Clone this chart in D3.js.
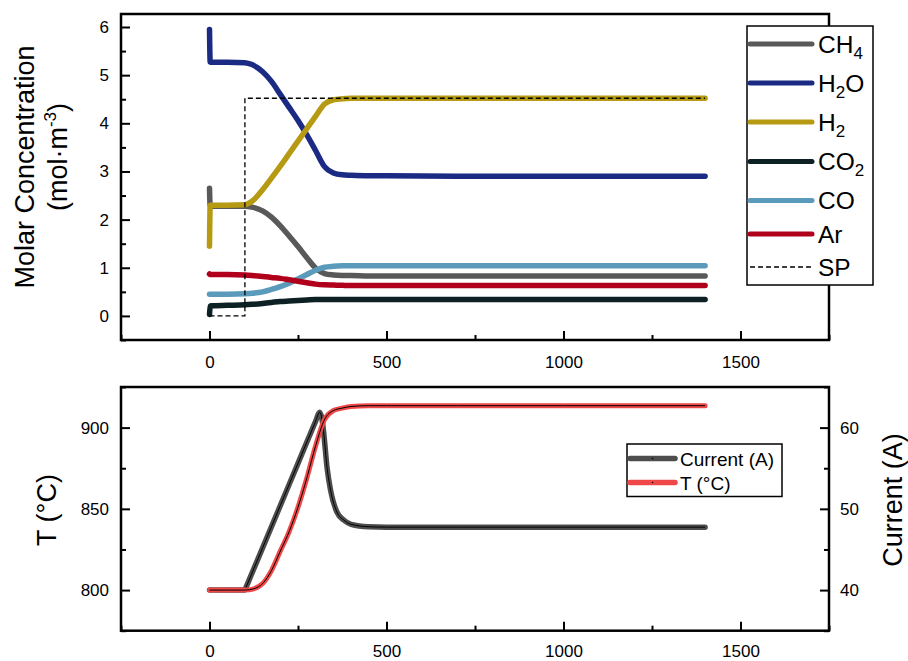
<!DOCTYPE html>
<html>
<head>
<meta charset="utf-8">
<script src="https://cdn.jsdelivr.net/npm/d3@7"></script>
<style>
  body { margin: 0; background: #fff; }
  svg { display: block; }
</style>
</head>
<body>
<div id="chart"></div>
<script>
// ---- data ----
var timeTop = [0, 2, 5, 50, 100, 120, 150, 175, 200, 225, 250, 275, 300, 325, 350, 375, 400, 450, 500, 700, 1000, 1400];
var ch4 = [2.65, 2.28, 2.28, 2.28, 2.28, 2.26, 2.18, 2.05, 1.87, 1.66, 1.44, 1.21, 0.99, 0.88, 0.85, 0.84, 0.84, 0.83, 0.83, 0.83, 0.83, 0.83];
var h2o = [5.95, 5.27, 5.27, 5.27, 5.26, 5.22, 5.07, 4.87, 4.6, 4.33, 4.06, 3.76, 3.43, 3.1, 2.97, 2.93, 2.92, 2.91, 2.91, 2.9, 2.9, 2.9];
var h2 = [1.45, 2.3, 2.3, 2.3, 2.31, 2.38, 2.62, 2.86, 3.11, 3.37, 3.63, 3.89, 4.15, 4.4, 4.49, 4.51, 4.52, 4.52, 4.52, 4.52, 4.52, 4.52];
var co2 = [0.03, 0.2, 0.21, 0.22, 0.23, 0.24, 0.26, 0.28, 0.3, 0.31, 0.32, 0.33, 0.34, 0.34, 0.34, 0.34, 0.34, 0.34, 0.34, 0.34, 0.34, 0.34];
var co = [0.45, 0.45, 0.45, 0.45, 0.46, 0.47, 0.5, 0.55, 0.61, 0.68, 0.77, 0.86, 0.95, 1.01, 1.03, 1.04, 1.04, 1.04, 1.04, 1.04, 1.04, 1.04];
var ar = [0.87, 0.86, 0.86, 0.86, 0.85, 0.84, 0.82, 0.8, 0.78, 0.75, 0.72, 0.69, 0.66, 0.645, 0.64, 0.635, 0.63, 0.63, 0.63, 0.63, 0.63, 0.63];
var spTime = [0, 100, 100, 1400];
var spValue = [0, 0, 4.52, 4.52];

var timeT = [0, 50, 100, 125, 150, 175, 200, 225, 250, 275, 300, 325, 350, 375, 400, 450, 500, 700, 1000, 1400];
var tempC = [800, 800, 800, 800.8, 804, 812, 824, 836, 851, 869, 889, 905, 910.5, 912, 913, 913.5, 913.5, 913.5, 913.5, 913.5];
var timeI = [0, 50, 100, 102, 150, 200, 250, 300, 311, 318, 323, 332, 342, 360, 380, 400, 450, 500, 700, 1000, 1400];
var currentA = [40, 40, 40, 40.21, 45.2, 50.4, 55.6, 60.8, 61.9, 61, 59.2, 55.1, 52.3, 49.6, 48.6, 48.1, 47.8, 47.75, 47.75, 47.75, 47.75];

var xMajor = [0, 500, 1000, 1500];
var xMinor = [-250, 250, 750, 1250, 1750];
var yMajor = [0, 1, 2, 3, 4, 5, 6];
var yMinor = [-0.5, 0.5, 1.5, 2.5, 3.5, 4.5, 5.5];
var tMajor = [800, 850, 900];
var tMinor = [775, 825, 875, 925];
var iMajor = [40, 50, 60];
var iMinor = [35, 45, 55, 65];

var topSeries = [
    { name: "CH", sub: "4", values: ch4, color: "#595959" },
    { name: "H", sub: "2", after: "O", values: h2o, color: "#1b2a83" },
    { name: "H", sub: "2", values: h2, color: "#b59a12" },
    { name: "CO", sub: "2", values: co2, color: "#0d2024" },
    { name: "CO", values: co, color: "#5a9abb" },
    { name: "Ar", values: ar, color: "#b0001c" }
];

var font = "'Liberation Sans', Arial, sans-serif";

var svg = d3.select("#chart")
    .append("svg")
    .attr("width", 908)
    .attr("height", 661)
    .style("font-family", font);

// panel boxes
var left = 121, right = 829;
var top1 = 14, bottom1 = 340;
var top2 = 387, bottom2 = 630.7;

var x1 = d3.scaleLinear().domain([-250, 1750]).range([left, right]);
var y1 = d3.scaleLinear().domain([-0.5, 6.27]).range([bottom1, top1]);
var yT = d3.scaleLinear().domain([775, 925]).range([bottom2, top2]);
var yI = d3.scaleLinear().domain([35, 65]).range([bottom2, top2]);

// Axis helper: major ticks with labels plus minor ticks, all pointing inward
var drawAxis = function (g, axisFn, scale, majors, minors, pad) {
    g.call(axisFn(scale).tickValues(minors).tickSizeInner(-5).tickSizeOuter(0).tickFormat(""));
    g.call(function (s) { s.select(".domain").remove(); });
    var m = g.append("g");
    m.call(axisFn(scale).tickValues(majors).tickSizeInner(-9).tickSizeOuter(0)
        .tickPadding(pad).tickFormat(d3.format("d")));
    m.select(".domain").remove();
    g.selectAll("line").attr("stroke", "#000").attr("stroke-width", 2);
    g.selectAll("text").attr("font-family", font).attr("font-size", 17).attr("fill", "#000");
};

// ---------- top panel ----------
drawAxis(svg.append("g").attr("transform", "translate(0," + bottom1 + ")"), d3.axisBottom, x1, xMajor, xMinor, 16);
drawAxis(svg.append("g").attr("transform", "translate(" + left + ",0)"), d3.axisLeft, y1, yMajor, yMinor, 12);

var lineTop = d3.line()
    .x(function (d) { return x1(d[0]); })
    .y(function (d) { return y1(d[1]); })
    .curve(d3.curveMonotoneX);

topSeries.forEach(function (s) {
    svg.append("path")
        .datum(timeTop.map(function (t, i) { return [t, s.values[i]]; }))
        .attr("d", lineTop)
        .attr("fill", "none")
        .attr("stroke", s.color)
        .attr("stroke-width", 5.5)
        .attr("stroke-linecap", "round")
        .attr("stroke-linejoin", "round");
});

svg.append("path")
    .datum(spTime.map(function (t, i) { return [t, spValue[i]]; }))
    .attr("d", d3.line().x(function (d) { return x1(d[0]); }).y(function (d) { return y1(d[1]); }))
    .attr("fill", "none")
    .attr("stroke", "#000")
    .attr("stroke-width", 1.3)
    .attr("stroke-dasharray", "5,3");

svg.append("rect")
    .attr("x", left).attr("y", top1)
    .attr("width", right - left).attr("height", bottom1 - top1)
    .attr("fill", "none").attr("stroke", "#000").attr("stroke-width", 2.5);

// legend (top)
var leg = svg.append("g");
leg.append("rect")
    .attr("x", 747).attr("y", 26).attr("width", 126).attr("height", 259)
    .attr("fill", "#fff").attr("stroke", "#000").attr("stroke-width", 1.5);
var legY = [44, 83, 122, 161.5, 200.5, 234, 267];
topSeries.forEach(function (s, i) {
    leg.append("line")
        .attr("x1", 750).attr("x2", 812).attr("y1", legY[i]).attr("y2", legY[i])
        .attr("stroke", s.color).attr("stroke-width", 5).attr("stroke-linecap", "round");
    var t = leg.append("text")
        .attr("x", 818).attr("y", legY[i] + 8.5)
        .attr("font-size", 24.5).attr("fill", "#000")
        .text(s.name);
    if (s.sub) {
        t.append("tspan").attr("dy", 6).attr("font-size", 17).text(s.sub);
        if (s.after) t.append("tspan").attr("dy", -6).attr("font-size", 24.5).text(s.after);
    }
});
leg.append("line")
    .attr("x1", 750).attr("x2", 812).attr("y1", legY[6]).attr("y2", legY[6])
    .attr("stroke", "#000").attr("stroke-width", 1.3).attr("stroke-dasharray", "5,3");
leg.append("text").attr("x", 818).attr("y", legY[6] + 8.5).attr("font-size", 24.5).text("SP");

// y title (top)
svg.append("text")
    .attr("transform", "translate(34,167) rotate(-90)")
    .attr("text-anchor", "middle").attr("font-size", 27)
    .text("Molar Concentration");
var unit = svg.append("text")
    .attr("transform", "translate(67,157) rotate(-90)")
    .attr("text-anchor", "middle").attr("font-size", 27)
    .text("(mol·m");
unit.append("tspan").attr("dy", -11).attr("font-size", 17).text("-3");
unit.append("tspan").attr("dy", 11).text(")");

// ---------- bottom panel ----------
drawAxis(svg.append("g").attr("transform", "translate(0," + bottom2 + ")"), d3.axisBottom, x1, xMajor, xMinor, 14);
drawAxis(svg.append("g").attr("transform", "translate(" + left + ",0)"), d3.axisLeft, yT, tMajor, tMinor, 12);
drawAxis(svg.append("g").attr("transform", "translate(" + right + ",0)"), d3.axisRight, yI, iMajor, iMinor, 11);

var lineI = d3.line()
    .x(function (d) { return x1(d[0]); })
    .y(function (d) { return yI(d[1]); })
    .curve(d3.curveMonotoneX);
var lineT = d3.line()
    .x(function (d) { return x1(d[0]); })
    .y(function (d) { return yT(d[1]); })
    .curve(d3.curveMonotoneX);

var iData = timeI.map(function (t, i) { return [t, currentA[i]]; });
var tData = timeT.map(function (t, i) { return [t, tempC[i]]; });

svg.append("path").datum(iData).attr("d", lineI)
    .attr("fill", "none").attr("stroke", "#4d4d4d").attr("stroke-width", 5.5)
    .attr("stroke-linecap", "round").attr("stroke-linejoin", "round");
svg.append("path").datum(iData).attr("d", lineI)
    .attr("fill", "none").attr("stroke", "#000").attr("stroke-width", 1);
svg.append("path").datum(tData).attr("d", lineT)
    .attr("fill", "none").attr("stroke", "#f04848").attr("stroke-width", 5)
    .attr("stroke-linecap", "round").attr("stroke-linejoin", "round");
svg.append("path").datum(tData).attr("d", lineT)
    .attr("fill", "none").attr("stroke", "#000").attr("stroke-width", 1);

svg.append("rect")
    .attr("x", left).attr("y", top2)
    .attr("width", right - left).attr("height", bottom2 - top2)
    .attr("fill", "none").attr("stroke", "#000").attr("stroke-width", 2.5);

// legend (bottom)
var leg2 = svg.append("g");
leg2.append("rect")
    .attr("x", 627).attr("y", 444).attr("width", 155).attr("height", 52.5)
    .attr("fill", "#fff").attr("stroke", "#000").attr("stroke-width", 1.5);
var leg2Items = [
    { label: "Current (A)", color: "#4d4d4d", y: 458.5 },
    { label: "T (°C)", color: "#f04848", y: 482.5 }
];
leg2Items.forEach(function (d) {
    leg2.append("line")
        .attr("x1", 630).attr("x2", 675).attr("y1", d.y).attr("y2", d.y)
        .attr("stroke", d.color).attr("stroke-width", 5.5).attr("stroke-linecap", "round");
    leg2.append("circle").attr("cx", 652.5).attr("cy", d.y).attr("r", 0.8).attr("fill", "#000");
    leg2.append("text").attr("x", 680).attr("y", d.y + 7).attr("font-size", 19).text(d.label);
});

// y titles (bottom)
svg.append("text")
    .attr("transform", "translate(56,510) rotate(-90)")
    .attr("text-anchor", "middle").attr("font-size", 27)
    .text("T (°C)");
svg.append("text")
    .attr("transform", "translate(902,500) rotate(-90)")
    .attr("text-anchor", "middle").attr("font-size", 27)
    .text("Current (A)");
</script>
</body>
</html>
